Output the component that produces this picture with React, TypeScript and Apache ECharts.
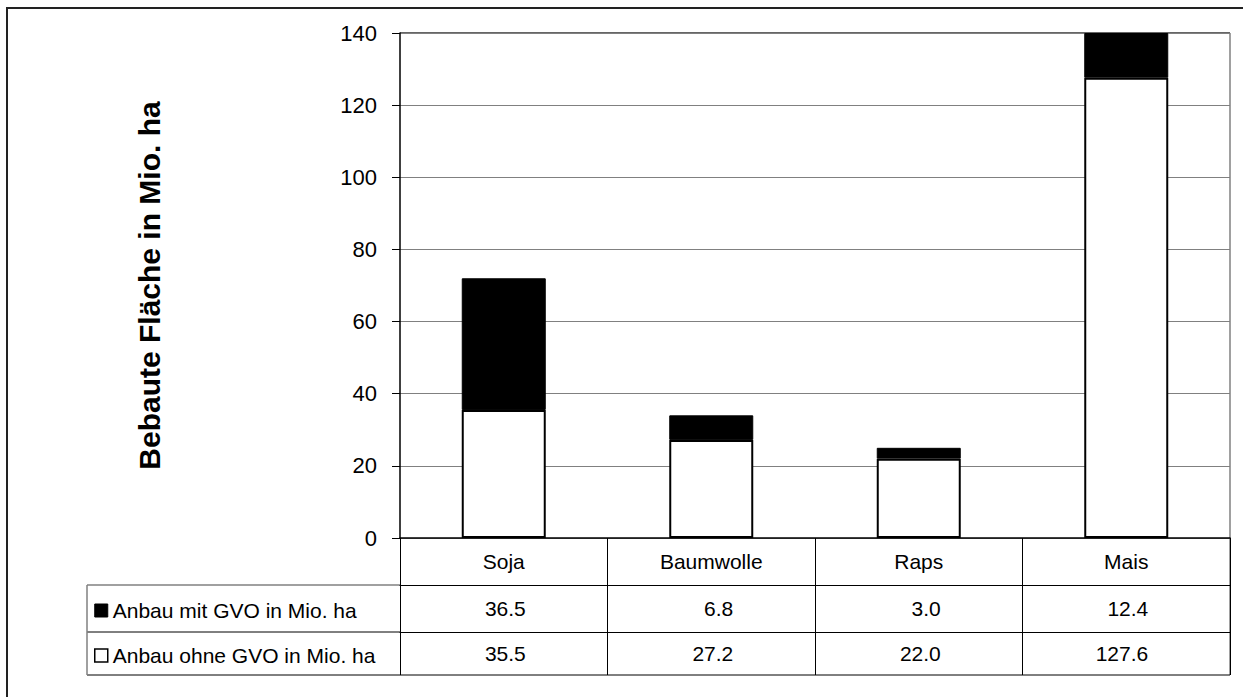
import React, { useEffect, useRef } from "react";
import * as echarts from "echarts";

const categories = ["Soja", "Baumwolle", "Raps", "Mais"];
const mitGVO = [36.5, 6.8, 3.0, 12.4];
const ohneGVO = [35.5, 27.2, 22.0, 127.6];
const seriesNames = ["Anbau mit GVO in Mio. ha", "Anbau ohne GVO in Mio. ha"];
const yTitle = "Bebaute Fläche in Mio. ha";

const W = 1243;
const H = 697;
const GL = 400; // grid left
const GT = 33; // grid top
const GR = 1230; // grid right x
const GB = 538; // grid bottom y
const ROW1 = 47;
const ROW2 = 47;
const ROW3 = 43;
const TABLE_LEFT = 87;
const FONT = "Liberation Sans, Arial, sans-serif";

export default function App() {
  const ref = useRef<HTMLDivElement>(null);
  useEffect(() => {
    document.body.style.margin = "0";
    const chart = echarts.init(ref.current!, undefined, { renderer: "svg" });
    const yRow1 = GB + ROW1;
    const yRow2 = yRow1 + ROW2;
    const yEnd = yRow2 + ROW3;
    const lineStyle = { stroke: "#000", lineWidth: 1 };
    const valueLabel = (margin: number) => ({
      fontSize: 21,
      color: "#000",
      margin,
      fontFamily: FONT,
      interval: 0,
      formatter: (v: string) => "{v|" + v + "}",
      rich: { v: { width: 44, align: "right", fontSize: 21, fontFamily: FONT, color: "#000" } },
    });
    chart.setOption({
      animation: false,
      backgroundColor: "#fff",
      textStyle: { fontFamily: FONT, color: "#000" },
      grid: { left: GL, top: GT, right: W - GR, bottom: H - GB, containLabel: false },
      legend: {
        orient: "vertical",
        left: 94,
        top: 600,
        padding: 0,
        itemWidth: 13,
        itemHeight: 13,
        itemGap: 24,
        selectedMode: false,
        textStyle: { fontSize: 21, color: "#000", fontFamily: FONT },
        data: [
          { name: seriesNames[0], icon: "rect", itemStyle: { color: "#000", borderColor: "#000", borderWidth: 1 } },
          { name: seriesNames[1], icon: "rect", itemStyle: { color: "#fff", borderColor: "#000", borderWidth: 1.5 } },
        ],
      },
      xAxis: [
        {
          type: "category",
          data: categories,
          position: "bottom",
          axisLine: { show: true, lineStyle: { color: "#000", width: 1.5 } },
          axisTick: { show: true, interval: 0, length: ROW1 + ROW2 + ROW3, lineStyle: { color: "#000", width: 1 } },
          axisLabel: { fontSize: 21, color: "#000", margin: 13, fontFamily: FONT, interval: 0 },
        },
        {
          type: "category",
          data: mitGVO.map((v) => v.toFixed(1)),
          position: "bottom",
          offset: ROW1,
          axisLine: { show: true, lineStyle: { color: "#000", width: 1 } },
          axisTick: { show: false },
          axisLabel: valueLabel(13),
        },
        {
          type: "category",
          data: ohneGVO.map((v) => v.toFixed(1)),
          position: "bottom",
          offset: ROW1 + ROW2,
          axisLine: { show: true, lineStyle: { color: "#000", width: 1 } },
          axisTick: { show: false },
          axisLabel: valueLabel(11),
        },
      ],
      yAxis: {
        type: "value",
        min: 0,
        max: 140,
        interval: 20,
        name: yTitle,
        nameLocation: "middle",
        nameGap: 236,
        nameTextStyle: { fontSize: 30, fontWeight: "bold", color: "#000", fontFamily: FONT },
        axisLine: { show: true, lineStyle: { color: "#000", width: 1.5 } },
        axisTick: { show: true, inside: false, length: 8, lineStyle: { color: "#000" } },
        axisLabel: { fontSize: 22, color: "#000", margin: 23, fontFamily: FONT },
        splitLine: { show: true, lineStyle: { color: "#808080", width: 1 } },
      },
      series: [
        {
          name: seriesNames[1],
          type: "bar",
          stack: "total",
          data: ohneGVO,
          barWidth: 84,
          itemStyle: { color: "#fff", borderColor: "#000", borderWidth: 2 },
        },
        {
          name: seriesNames[0],
          type: "bar",
          stack: "total",
          data: mitGVO,
          barWidth: 84,
          itemStyle: { color: "#000", borderColor: "#000", borderWidth: 1 },
        },
      ],
      graphic: [
        { type: "rect", shape: { x: 7, y: 8, width: 1400, height: 900 }, style: { fill: "none", stroke: "#222", lineWidth: 2 }, silent: true },
        { type: "line", shape: { x1: GR, y1: GT, x2: GR, y2: yEnd }, style: { stroke: "#808080", lineWidth: 1.5 }, silent: true },
        { type: "line", shape: { x1: GL, y1: GT, x2: GR, y2: GT }, style: { stroke: "#333", lineWidth: 1.5 }, silent: true },
        { type: "line", shape: { x1: TABLE_LEFT, y1: yRow1, x2: GL, y2: yRow1 }, style: { stroke: "#808080", lineWidth: 1.5 }, silent: true },
        { type: "line", shape: { x1: TABLE_LEFT, y1: yRow2, x2: GL, y2: yRow2 }, style: lineStyle, silent: true },
        { type: "line", shape: { x1: TABLE_LEFT, y1: yEnd, x2: GR, y2: yEnd }, style: lineStyle, silent: true },
        { type: "line", shape: { x1: TABLE_LEFT, y1: yRow1, x2: TABLE_LEFT, y2: yEnd }, style: { stroke: "#808080", lineWidth: 1.5 }, silent: true },
      ],
    });
    return () => chart.dispose();
  }, []);
  return <div ref={ref} style={{ width: W, height: H }} />;
}
